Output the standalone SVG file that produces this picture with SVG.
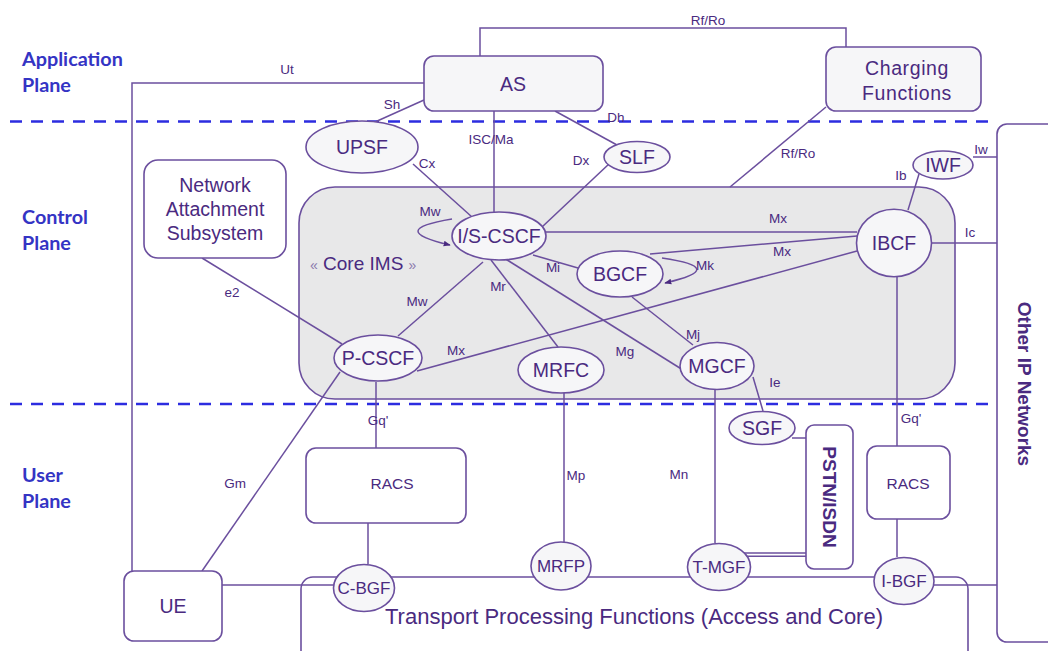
<svg xmlns="http://www.w3.org/2000/svg" width="1048" height="651" viewBox="0 0 1048 651">
  <style>
    .bg { fill: #ffffff; }
    .plane { font-family: Lato, "Open Sans", sans-serif; font-weight: 700; font-size: 19.8px; fill: #3434c4; }
    .sep { stroke: #2c2ce0; stroke-width: 2.4; stroke-dasharray: 12 9; fill: none; }
    .box { fill: #f6f6f8; stroke: #6b4f9e; stroke-width: 1.6; }
    .plain { fill: #ffffff; stroke: #6b4f9e; stroke-width: 1.6; }
    .core { fill: #e8e8e9; stroke: #6b4f9e; stroke-width: 1.6; }
    .link { stroke: #6b4f9e; stroke-width: 1.5; fill: none; }
    .big { font-family: "Liberation Sans", Arial, sans-serif; font-size: 19.5px; fill: #4a2a80; text-anchor: middle; }
    .mid { font-family: "Liberation Sans", Arial, sans-serif; font-size: 17px; fill: #4a2a80; text-anchor: middle; }
    .racs { font-family: "Liberation Sans", Arial, sans-serif; font-size: 15.5px; fill: #4a2a80; text-anchor: middle; }
    .lbl { font-family: "Liberation Sans", Arial, sans-serif; font-size: 13.5px; fill: #4a2a80; text-anchor: middle; }
    .vert { font-family: "Liberation Sans", Arial, sans-serif; font-weight: 700; fill: #4a2a80; text-anchor: middle; }
  </style>
  <defs>
    <marker id="arrow" viewBox="0 0 10 10" refX="9" refY="5" markerWidth="7" markerHeight="7" orient="auto-start-reverse" markerUnits="userSpaceOnUse">
      <path d="M0,1 L10,5 L0,9 z" fill="#4a2a80"/>
    </marker>
  </defs>

  <rect class="bg" x="0" y="0" width="1048" height="651"/>

  <!-- plane labels and separators -->
  <g id="planes">
    <text class="plane" x="22" y="66">Application</text>
    <text class="plane" x="22" y="92">Plane</text>
    <text class="plane" x="22" y="224">Control</text>
    <text class="plane" x="22" y="250">Plane</text>
    <text class="plane" x="22" y="482">User</text>
    <text class="plane" x="22" y="508">Plane</text>
    <line class="sep" x1="10" y1="121.5" x2="988" y2="121.5"/>
    <line class="sep" x1="10" y1="404" x2="988" y2="404"/>
  </g>

  <!-- containers -->
  <g id="core-ims">
    <rect class="core" x="299" y="187" width="656" height="212" rx="36"/>
    <text x="310" y="270" font-family="'Liberation Sans', Arial, sans-serif" font-size="19px" fill="#4a2a80"><tspan font-size="14px" fill="#8a78ac">«</tspan> Core IMS <tspan font-size="14px" fill="#8a78ac">»</tspan></text>
  </g>
  <g id="transport">
    <rect class="plain" x="301" y="577" width="667" height="90" rx="12"/>
    <text x="634" y="624" font-family="'Liberation Sans', Arial, sans-serif" font-size="21.5px" fill="#4a2a80" text-anchor="middle" textLength="498" lengthAdjust="spacingAndGlyphs">Transport Processing Functions (Access and Core)</text>
  </g>
  <g id="other-ip">
    <rect class="plain" x="997" y="124" width="90" height="518" rx="10"/>
    <text class="vert" font-size="19px" transform="translate(1018,384) rotate(90)">Other IP Networks</text>
  </g>

  <!-- connectors -->
  <g id="connectors">
    <polyline class="link" points="424,83 132,83 132,571"/>
    <polyline class="link" points="480,56 480,28 846,28 846,47"/>
    <line class="link" x1="424" y1="100" x2="375" y2="122"/>
    <line class="link" x1="494" y1="111" x2="494" y2="212"/>
    <line class="link" x1="413" y1="164" x2="472" y2="217"/>
    <line class="link" x1="555" y1="111" x2="617" y2="145"/>
    <line class="link" x1="610" y1="163" x2="542" y2="227"/>
    <line class="link" x1="826" y1="107" x2="730" y2="187"/>
    <line class="link" x1="973" y1="157" x2="997" y2="157"/>
    <line class="link" x1="919" y1="174" x2="908" y2="210"/>
    <line class="link" x1="932" y1="243" x2="997" y2="243"/>
    <line class="link" x1="202" y1="258" x2="342" y2="344"/>
    <path class="link" d="M452,219 Q385,230 450,245" marker-end="url(#arrow)"/>
    <line class="link" x1="483" y1="262" x2="398" y2="336"/>
    <line class="link" x1="491" y1="260" x2="558" y2="347"/>
    <line class="link" x1="533" y1="255" x2="578" y2="268"/>
    <line class="link" x1="504" y1="258" x2="683" y2="370"/>
    <line class="link" x1="546" y1="232" x2="857" y2="232"/>
    <line class="link" x1="650" y1="254" x2="857" y2="236"/>
    <line class="link" x1="417" y1="371" x2="857" y2="251"/>
    <path class="link" d="M662,258 Q730,268 665,283" marker-end="url(#arrow)"/>
    <line class="link" x1="632" y1="297" x2="693" y2="345"/>
    <line class="link" x1="753" y1="377" x2="763" y2="411"/>
    <line class="link" x1="376" y1="382" x2="376" y2="448"/>
    <line class="link" x1="897" y1="277" x2="897" y2="446"/>
    <line class="link" x1="897" y1="519" x2="897" y2="557"/>
    <line class="link" x1="368" y1="523" x2="368" y2="564"/>
    <line class="link" x1="340" y1="372" x2="202" y2="571"/>
    <line class="link" x1="222" y1="585" x2="334" y2="585"/>
    <line class="link" x1="564" y1="393" x2="564" y2="542"/>
    <line class="link" x1="715" y1="390" x2="715" y2="543"/>
    <line class="link" x1="792" y1="438" x2="806" y2="438"/>
    <line class="link" x1="743" y1="553" x2="806" y2="553" stroke="#4a2a80" stroke-width="3"/>
    <line class="link" x1="746" y1="556.2" x2="806" y2="556.2" stroke-width="1.3"/>
    <line class="link" x1="933" y1="585" x2="997" y2="585"/>

    <text class="lbl" x="708" y="25">Rf/Ro</text>
    <text class="lbl" x="287" y="74">Ut</text>
    <text class="lbl" x="392" y="109">Sh</text>
    <text class="lbl" x="491" y="144">ISC/Ma</text>
    <text class="lbl" x="427" y="168">Cx</text>
    <text class="lbl" x="616" y="122">Dh</text>
    <text class="lbl" x="581" y="165">Dx</text>
    <text class="lbl" x="798" y="158">Rf/Ro</text>
    <text class="lbl" x="981" y="154">Iw</text>
    <text class="lbl" x="901" y="180">Ib</text>
    <text class="lbl" x="970" y="237">Ic</text>
    <text class="lbl" x="430" y="216">Mw</text>
    <text class="lbl" x="417" y="306">Mw</text>
    <text class="lbl" x="498" y="291">Mr</text>
    <text class="lbl" x="553" y="272">Mi</text>
    <text class="lbl" x="625" y="356">Mg</text>
    <text class="lbl" x="456" y="355">Mx</text>
    <text class="lbl" x="778" y="223">Mx</text>
    <text class="lbl" x="782" y="256">Mx</text>
    <text class="lbl" x="705" y="270">Mk</text>
    <text class="lbl" x="693" y="339">Mj</text>
    <text class="lbl" x="775" y="387">Ie</text>
    <text class="lbl" x="232" y="297">e2</text>
    <text class="lbl" x="378" y="425" text-anchor="start">Gq'</text>
    <text class="lbl" x="911" y="423" text-anchor="start">Gq'</text>
    <text class="lbl" x="235" y="488">Gm</text>
    <text class="lbl" x="576" y="480">Mp</text>
    <text class="lbl" x="679" y="479">Mn</text>
  </g>

  <!-- application plane -->
  <g id="as">
    <rect class="box" x="424" y="56" width="179" height="55" rx="10"/>
    <text class="big" x="513" y="91">AS</text>
  </g>
  <g id="charging">
    <rect class="box" x="826" y="47" width="155" height="64" rx="10"/>
    <text class="big" x="907" y="75" font-size="21px" letter-spacing="0.6">Charging</text>
    <text class="big" x="907" y="100" font-size="21px" letter-spacing="0.6">Functions</text>
  </g>

  <!-- control plane -->
  <g id="upsf">
    <ellipse class="box" cx="362" cy="147" rx="56" ry="26"/>
    <text class="big" x="362" y="154">UPSF</text>
  </g>
  <g id="slf">
    <ellipse class="box" cx="637" cy="157" rx="33" ry="15.5"/>
    <text class="big" x="637" y="164">SLF</text>
  </g>
  <g id="iwf">
    <ellipse class="box" cx="943" cy="165" rx="30" ry="14"/>
    <text class="big" x="943" y="172">IWF</text>
  </g>
  <g id="nas">
    <rect class="plain" x="144" y="160" width="142" height="98" rx="14"/>
    <text class="big" x="215" y="192" font-size="18.5px">Network</text>
    <text class="big" x="215" y="216" font-size="18.5px">Attachment</text>
    <text class="big" x="215" y="240" font-size="18.5px">Subsystem</text>
  </g>
  <g id="is-cscf">
    <ellipse class="box" cx="499" cy="236" rx="47" ry="24"/>
    <text class="big" x="499" y="243">I/S-CSCF</text>
  </g>
  <g id="bgcf">
    <ellipse class="box" cx="620" cy="274" rx="43" ry="23"/>
    <text class="big" x="620" y="281">BGCF</text>
  </g>
  <g id="ibcf">
    <ellipse class="box" cx="894" cy="243" rx="37.5" ry="33.7"/>
    <text class="big" x="894" y="250">IBCF</text>
  </g>
  <g id="p-cscf">
    <ellipse class="box" cx="378" cy="358" rx="44" ry="23"/>
    <text class="big" x="378" y="365">P-CSCF</text>
  </g>
  <g id="mrfc">
    <ellipse class="box" cx="561" cy="370" rx="43" ry="23"/>
    <text class="big" x="561" y="377">MRFC</text>
  </g>
  <g id="mgcf">
    <ellipse class="box" cx="717" cy="366" rx="37" ry="23.5"/>
    <text class="big" x="717" y="373">MGCF</text>
  </g>

  <!-- user plane -->
  <g id="sgf">
    <ellipse class="box" cx="762" cy="428" rx="33" ry="16.5"/>
    <text class="big" x="762" y="435">SGF</text>
  </g>
  <g id="pstn-isdn">
    <rect class="plain" x="806" y="425" width="47" height="144" rx="8"/>
    <text class="vert" font-size="19px" transform="translate(823,497) rotate(90)">PSTN/ISDN</text>
  </g>
  <g id="racs-access">
    <rect class="plain" x="306" y="448" width="160" height="75" rx="10"/>
    <text class="racs" x="392" y="489">RACS</text>
  </g>
  <g id="racs-interconnect">
    <rect class="plain" x="867" y="446" width="83" height="73" rx="10"/>
    <text class="racs" x="908" y="489">RACS</text>
  </g>
  <g id="ue">
    <rect class="plain" x="124" y="571" width="98" height="70" rx="10"/>
    <text class="big" x="173" y="613">UE</text>
  </g>
  <g id="c-bgf">
    <ellipse class="box" cx="364" cy="588" rx="30.5" ry="23.5"/>
    <text class="mid" x="364" y="594" font-size="17.5px">C-BGF</text>
  </g>
  <g id="mrfp">
    <ellipse class="box" cx="561" cy="566" rx="30" ry="24"/>
    <text class="mid" x="561" y="572">MRFP</text>
  </g>
  <g id="t-mgf">
    <ellipse class="box" cx="719" cy="567" rx="31.5" ry="23.5"/>
    <text class="mid" x="719" y="573">T-MGF</text>
  </g>
  <g id="i-bgf">
    <ellipse class="box" cx="904" cy="581" rx="30" ry="23.5"/>
    <text class="mid" x="904" y="587">I-BGF</text>
  </g>
</svg>
